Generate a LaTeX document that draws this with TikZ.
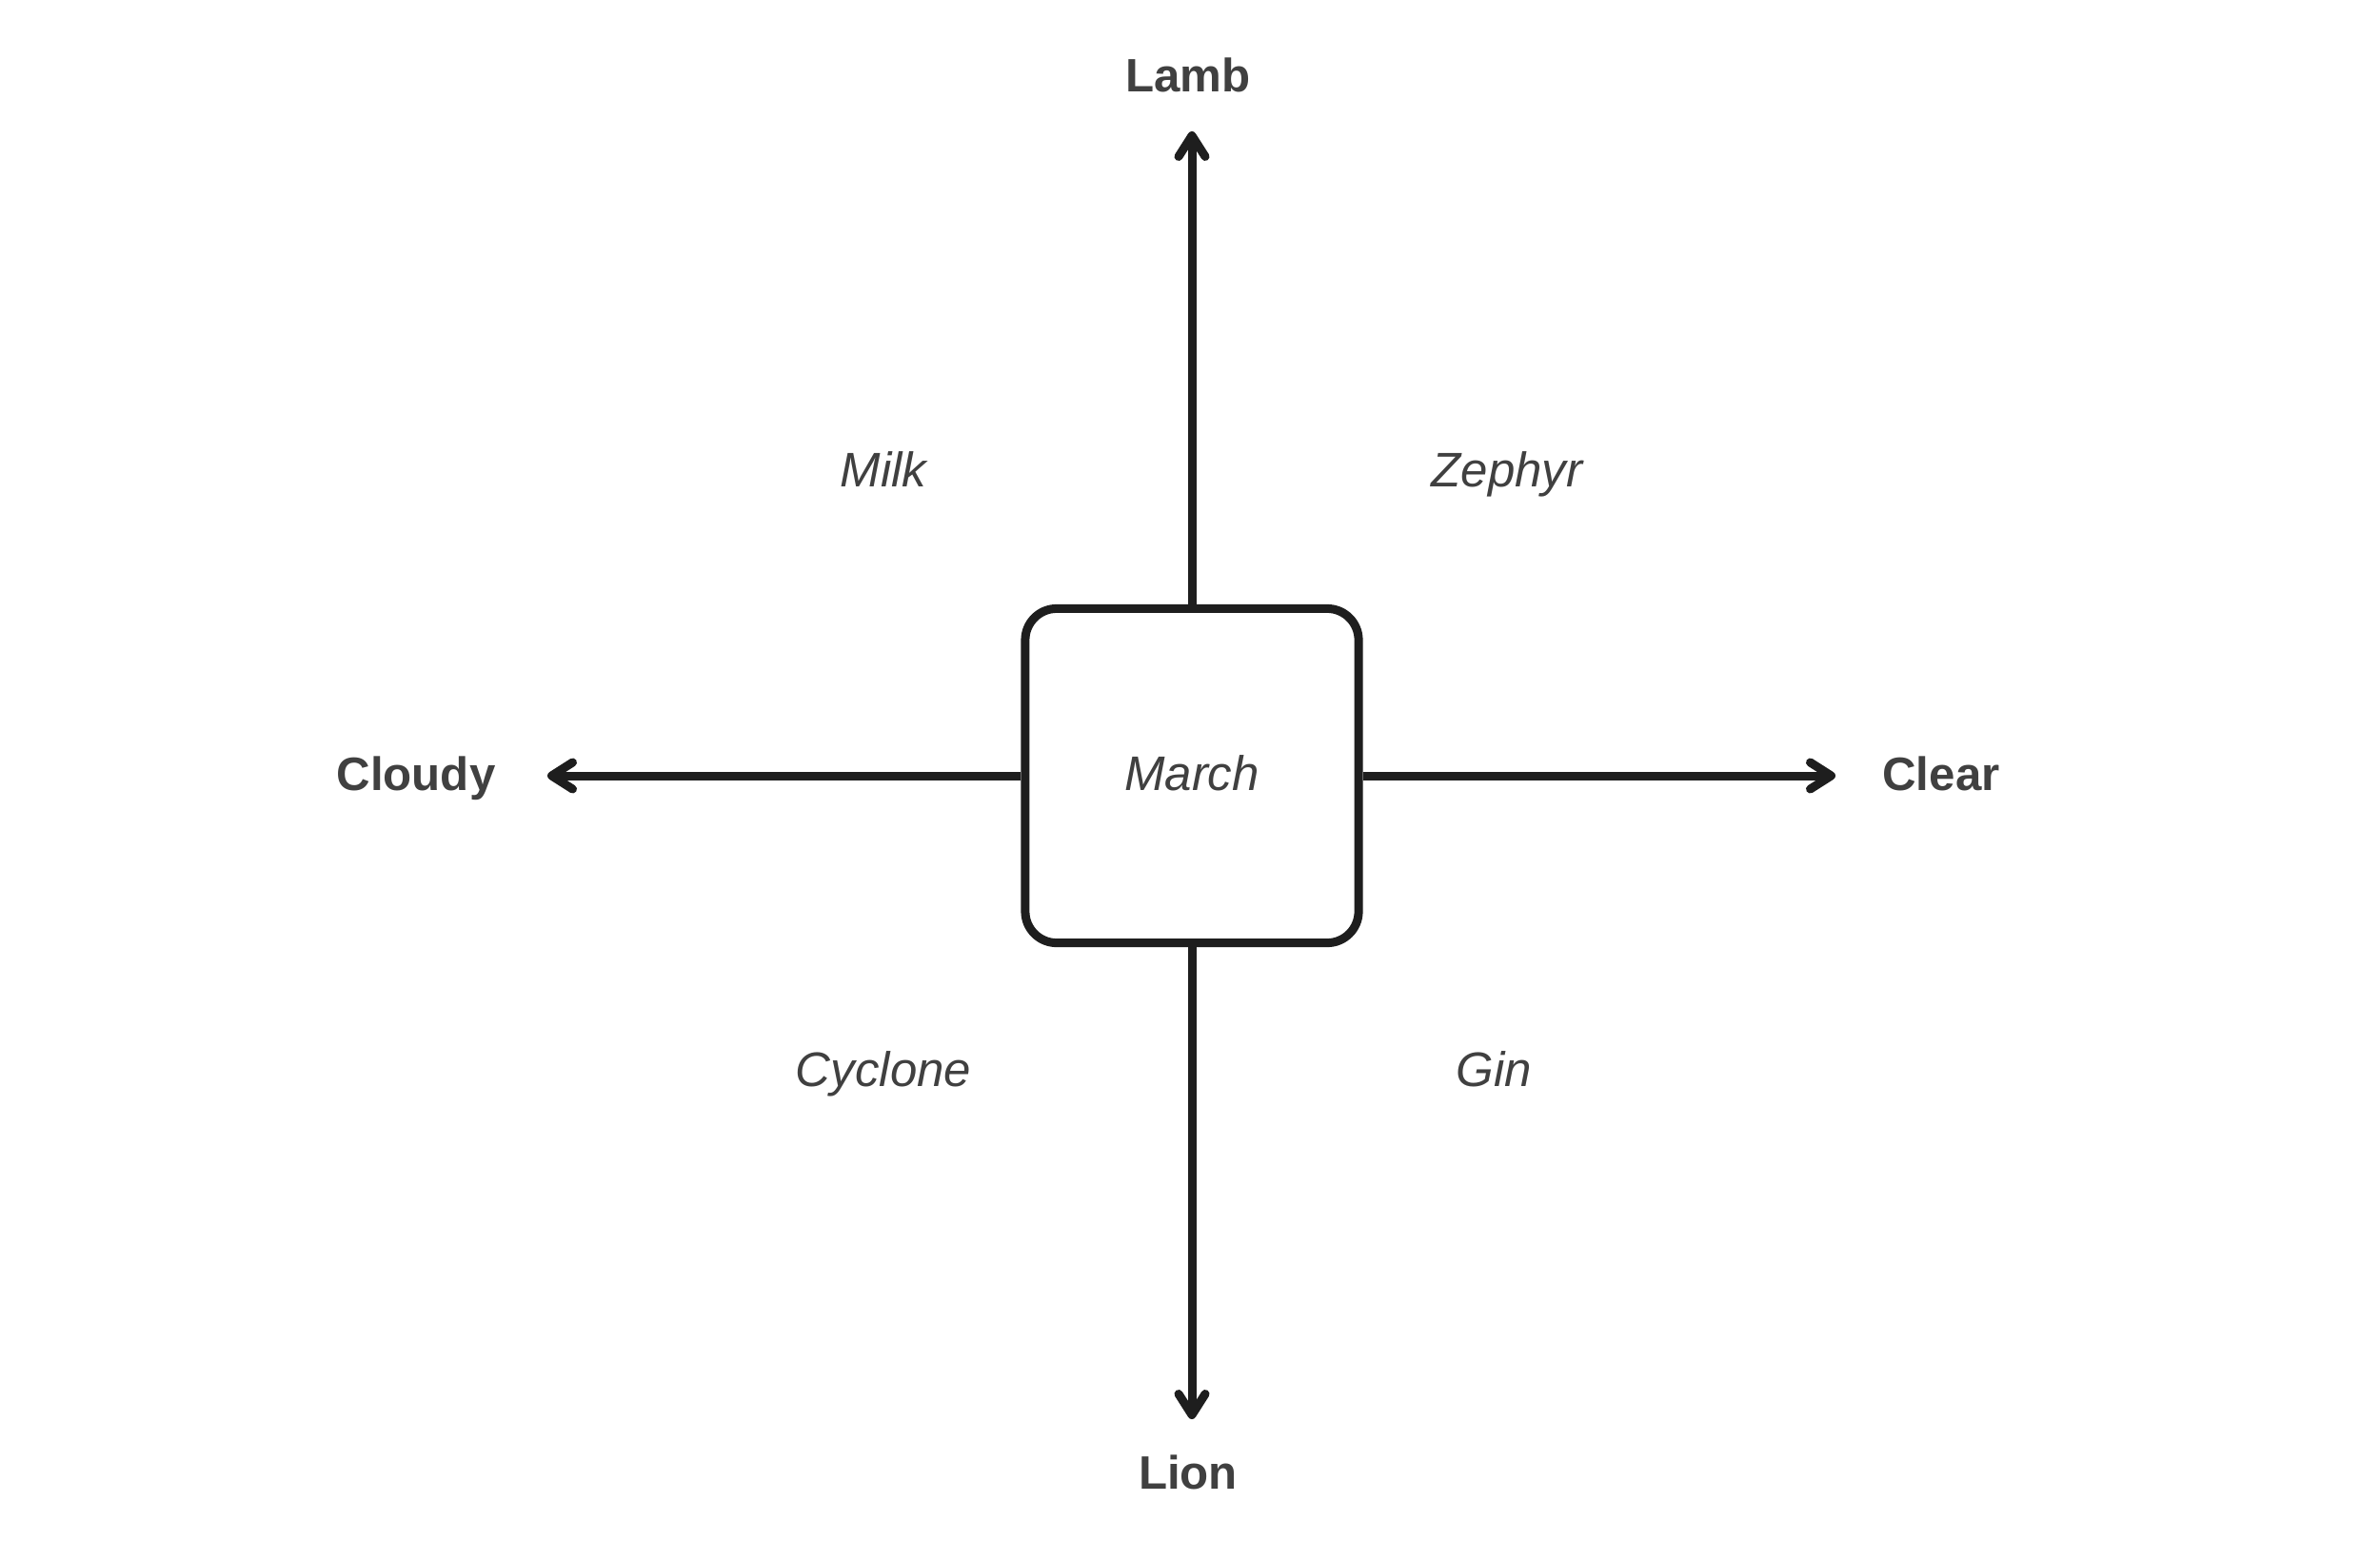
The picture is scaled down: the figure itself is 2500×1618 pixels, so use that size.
\documentclass[tikz,border=0pt]{standalone}
\usepackage{fontspec}
\setmainfont{Liberation Sans}
\usetikzlibrary{arrows.meta}
\definecolor{txt}{HTML}{404040}
\definecolor{ink}{HTML}{1E1E1E}
\begin{document}
\begin{tikzpicture}[x=0.01cm,y=-0.01cm,
  axislabel/.style={anchor=base, font=\fontsize{14}{16}\selectfont\bfseries, text=txt},
  quadlabel/.style={anchor=base, font=\fontsize{14.5}{16}\selectfont\itshape, text=txt},
  centerbox/.style={draw=ink, line width=0.09cm, rounded corners=0.33cm, minimum width=3.5cm, minimum height=3.51cm, fill=white},
  axisarrow/.style={draw=ink, line width=0.09cm, -{Straight Barb[length=2.2mm,width=2.8mm,line join=round,line cap=round]}}
]
\useasboundingbox (0,0) rectangle (2500,1618);
\node[centerbox] (march) at (1252,815) {};
\node[quadlabel] (marchtext) at (1252,830) {March};
\coordinate (ttip) at (1252,138);
\coordinate (btip) at (1252,1491);
\coordinate (ltip) at (575,815);
\coordinate (rtip) at (1928,815);
\draw[axisarrow] (march.north) -- (ttip);
\draw[axisarrow] (march.south) -- (btip);
\draw[axisarrow] (march.west) -- (ltip);
\draw[axisarrow] (march.east) -- (rtip);
\node[axislabel] (lamb) at (1248,97) {Lamb};
\node[axislabel] (lion) at (1248,1564) {Lion};
\node[axislabel] (cloudy) at (437,830) {Cloudy};
\node[axislabel] (clear) at (2039,830) {Clear};
\node[quadlabel] (milk) at (928,511) {Milk};
\node[quadlabel] (zephyr) at (1583,511) {Zephyr};
\node[quadlabel] (cyclone) at (928,1141) {Cyclone};
\node[quadlabel] (gin) at (1569,1141) {Gin};
\end{tikzpicture}
\end{document}
